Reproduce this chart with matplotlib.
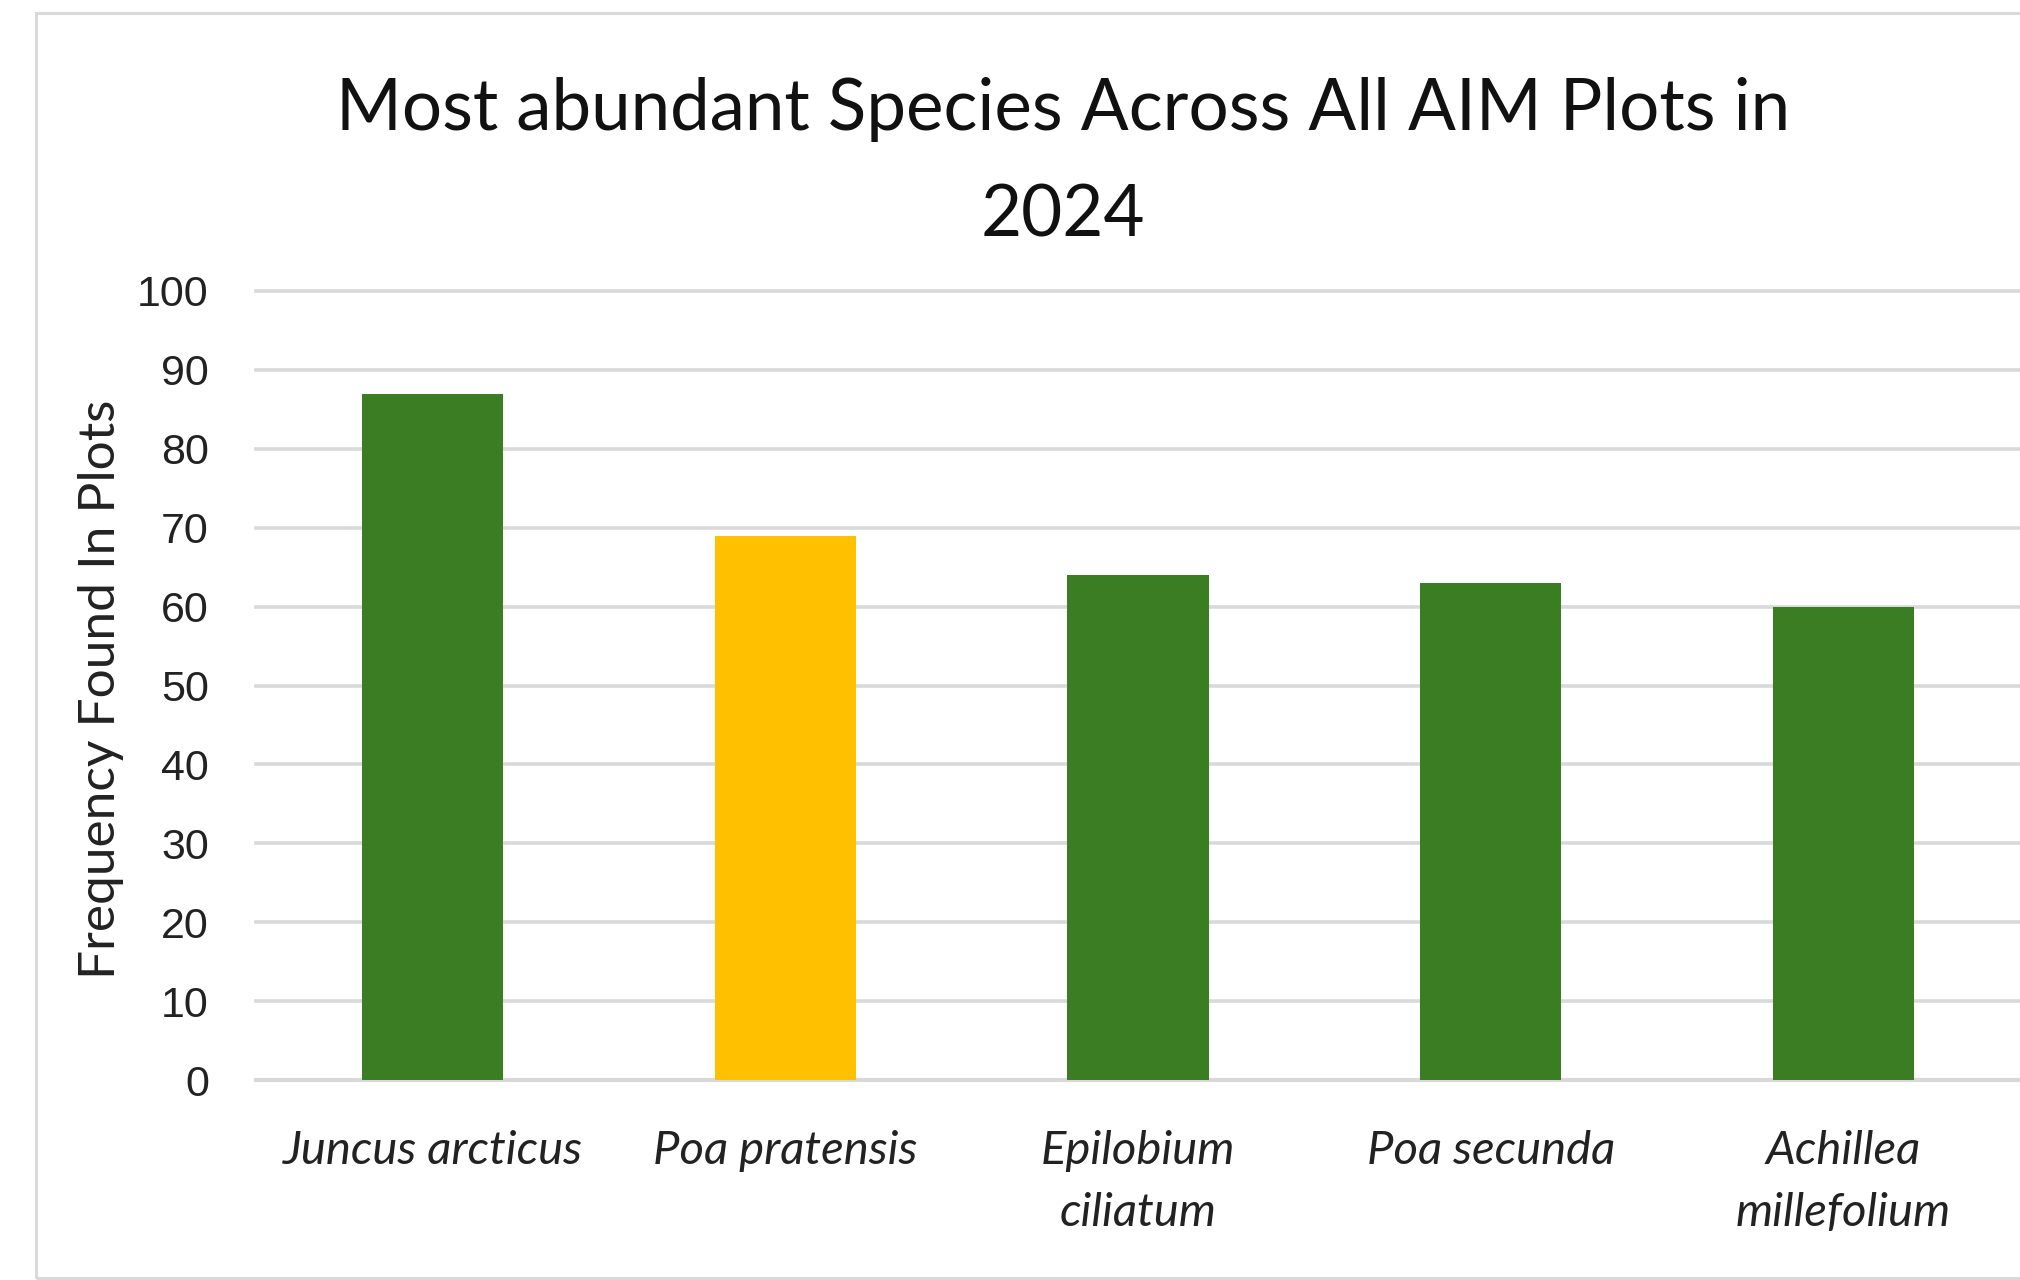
import matplotlib.pyplot as plt
from matplotlib.patches import Rectangle

# Species counts across the 2024 plots
species = ['Juncus arcticus', 'Poa pratensis', 'Epilobium\nciliatum',
           'Poa secunda', 'Achillea\nmillefolium']
frequency = [87, 69, 64, 63, 60]
bar_colors = ['#3B7D23', '#FFC000', '#3B7D23', '#3B7D23', '#3B7D23']
y_ticks = list(range(0, 101, 10))

plt.rcParams['font.family'] = ['Lato', 'DejaVu Sans']

fig = plt.figure(figsize=(20.2, 12.8), dpi=100)
fig.patch.set_facecolor('white')

# light frame around the chart area
fig.patches.append(Rectangle((36 / 2020, 2 / 1280), 1.2, 1265 / 1280,
                             transform=fig.transFigure, fill=False,
                             edgecolor='#d9d9d9', linewidth=2.2))

ax = fig.add_axes([256 / 2020, 1 - 1080 / 1280, 1 - 256 / 2020, (1080 - 291) / 1280])
x = range(len(species))
ax.bar(x, frequency, width=0.40, color=bar_colors, zorder=3)

ax.set_xlim(-0.5, len(species) - 0.5)
ax.set_ylim(0, 100)
ax.set_yticks(y_ticks)
ax.set_yticklabels([str(v) for v in y_ticks], family='Liberation Sans', fontsize=31)
ax.set_xticks(list(x))
ax.set_xticklabels(species, fontsize=34, style='italic', linespacing=1.6)

ax.yaxis.grid(True, color='#d9d9d9', linewidth=2.6, zorder=0)
for gl in ax.get_ygridlines():
    gl.set_clip_on(False)
ax.set_axisbelow(True)
ax.tick_params(axis='both', length=0)
ax.tick_params(axis='y', pad=34, colors='#222222')
ax.tick_params(axis='x', pad=36, colors='#222222')
for side in ['top', 'right', 'left']:
    ax.spines[side].set_visible(False)
ax.spines['bottom'].set_color('#d9d9d9')
ax.spines['bottom'].set_linewidth(3)

fig.text(101 / 2020, 1 - 689 / 1280, 'Frequency Found In Plots', rotation=90,
         ha='center', va='center', fontsize=37, color='#222222')

fig.text(1063 / 2020, 1 - 163 / 1280, 'Most abundant Species Across All AIM Plots in\n2024',
         ha='center', va='center', fontsize=51, linespacing=1.78, color='#111111')

fig.savefig('out.png', dpi=100, facecolor='white')
